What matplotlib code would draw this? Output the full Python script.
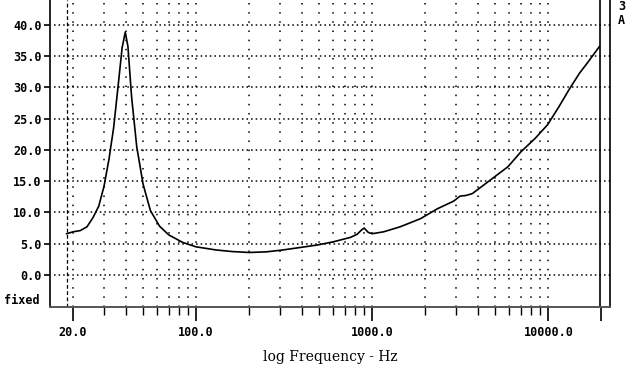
import matplotlib
matplotlib.use("Agg")
import matplotlib.pyplot as plt
from matplotlib.ticker import FixedLocator, NullFormatter

# impedance curve (Hz, ohm)
freq = [18.4, 20, 22, 24, 26, 28, 30, 32, 34, 36, 38, 39.6, 41, 43, 46, 50,
        55, 62, 70, 84, 100, 130, 160, 200, 250, 310, 390, 490, 600, 750,
        820, 870, 900, 950, 1000, 1160, 1440, 1880, 2350, 2900, 3150, 3400,
        3700, 4700, 5900, 7000, 8400, 9900, 11500, 13100, 15000, 17100, 19500]
impedance = [6.6, 6.9, 7.1, 7.7, 9.2, 11.0, 14.2, 18.5, 23.5, 30.0, 36.3, 38.8,
             36.5, 28.5, 20.5, 14.5, 10.3, 7.8, 6.4, 5.2, 4.5, 4.0, 3.75, 3.6,
             3.7, 4.0, 4.4, 4.8, 5.3, 6.0, 6.5, 7.2, 7.5, 6.8, 6.6, 6.9, 7.7,
             9.0, 10.6, 11.8, 12.6, 12.7, 13.0, 15.2, 17.3, 19.7, 21.8, 24.0,
             26.9, 29.6, 32.2, 34.3, 36.5]

y_ticks = [0, 5, 10, 15, 20, 25, 30, 35, 40]
x_major = [20, 100, 1000, 10000]
x_major_labels = ["20.0", "100.0", "1000.0", "10000.0"]
x_grid = [20, 30, 40, 50, 60, 70, 80, 90,
          100, 200, 300, 400, 500, 600, 700, 800, 900,
          1000, 2000, 3000, 4000, 5000, 6000, 7000, 8000, 9000, 10000]
f_start, f_stop = 18.4, 19600

mono = {"family": "DejaVu Sans Mono", "weight": "bold", "size": 8.5}

fig = plt.figure(figsize=(6.3, 3.73), dpi=100)
ax = fig.add_axes([50 / 630, 1 - 306.7 / 373, 560 / 630, 306.7 / 373])

ax.set_xscale("log")
ax.set_xlim(14.8, 22400)
ax.set_ylim(-5.06, 43.93)

# dotted grid
for v in y_ticks:
    ax.plot([15.5, 22400], [v, v], color="black", lw=1.1, ls=(0, (1, 2)))
for f in x_grid:
    ax.axvline(f, color="black", lw=1.1, ls=(0, (1, 5)))

ax.axvline(f_start, color="black", lw=0.9, ls=(0, (3, 2)))
ax.axvline(f_stop, color="black", lw=1.2)

ax.plot(freq, impedance, color="black", lw=1.2)

ax.set_yticks(y_ticks)
ax.set_yticklabels([f"{v:.1f}" for v in y_ticks], fontdict=mono)
ax.tick_params(axis="y", length=4, width=1.2, pad=2)

ax.xaxis.set_major_locator(FixedLocator(x_major + [20000]))
ax.set_xticklabels(x_major_labels + [""], fontdict=mono)
ax.xaxis.set_minor_locator(FixedLocator([f for f in x_grid if f not in x_major]))
ax.xaxis.set_minor_formatter(NullFormatter())
ax.tick_params(axis="x", which="major", length=10, width=1.2, pad=4)
ax.tick_params(axis="x", which="minor", length=6, width=1.0)

ax.spines["top"].set_visible(False)
ax.spines["left"].set_linewidth(1.2)
ax.spines["right"].set_linewidth(1.2)
ax.spines["bottom"].set_linewidth(1.4)
ax.spines["bottom"].set_color("#555555")

ax.set_xlabel("log Frequency - Hz", family="DejaVu Serif", size=10, labelpad=8)

fig.text(40 / 630, 1 - 301 / 373, "fixed", ha="right", va="center", **mono)
fig.text(618 / 630, 1 - 6 / 373, "3", ha="left", va="center", **mono)
fig.text(618 / 630, 1 - 20 / 373, "A", ha="left", va="center", **mono)

fig.savefig("out.png", dpi=100)
